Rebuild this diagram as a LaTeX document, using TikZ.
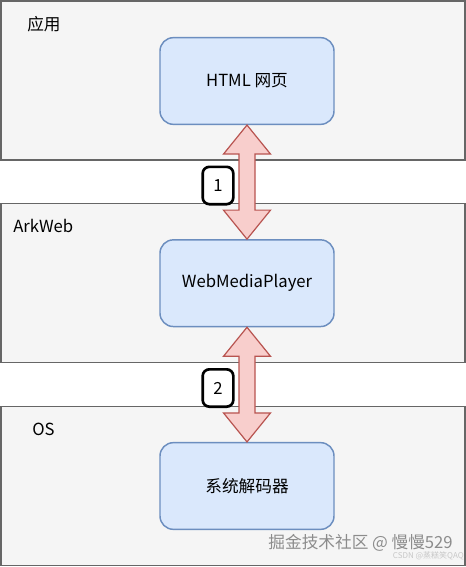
\documentclass[tikz,border=0pt]{standalone}
\usepackage{fontspec}
\setmainfont{Noto Sans CJK SC}
\usetikzlibrary{calc,positioning}
\definecolor{layerfill}{HTML}{F5F5F5}
\definecolor{layerline}{HTML}{666666}
\definecolor{modfill}{HTML}{DAE8FC}
\definecolor{modline}{HTML}{6C8EBF}
\definecolor{arrfill}{HTML}{F8CECC}
\definecolor{arrline}{HTML}{B85450}
\tikzset{
    layer/.style={draw=layerline,fill=layerfill,line width=1.4pt},
    layertext/.style={anchor=west,inner sep=0pt,font=\fontsize{12.5}{15}\selectfont},
    module/.style={draw=modline,fill=modfill,line width=1.1pt,rounded corners=10pt,
        minimum width=130.5pt,minimum height=65pt,font=\fontsize{12.5}{15}\selectfont},
    badge/.style={draw=black,fill=white,line width=2pt,rounded corners=5pt,
        minimum width=23pt,minimum height=28pt,inner sep=0pt,font=\fontsize{12.5}{15}\selectfont},
    bigarrow/.style={draw=arrline,fill=arrfill,line width=0.9pt}
}
% double arrow between the bottom of #1 and the top of #2
\newcommand{\dblarrow}[2]{%
    \draw[bigarrow] (#1.south) -- ++(23.5,29) -- ++(-15.5,0)
        -- ($(#2.north)+(8,-29)$) -- ++(15.5,0) -- (#2.north)
        -- ++(-23.5,-29) -- ++(15.5,0)
        -- ($(#1.south)+(-8,29)$) -- ++(-15.5,0) -- cycle;}

\begin{document}
\begin{tikzpicture}[x=0.75pt,y=-0.75pt]
    \useasboundingbox (0,0) rectangle (466,567);
    % layers
    \draw[layer] (1,1) rectangle (465,160);
    \draw[layer] (1,203.5) rectangle (465,362.5);
    \draw[layer] (1,406.5) rectangle (465,565.5);
    \node[layertext] (app) at (27,24) {应用};
    \node[layertext] (ark) at (13,226) {ArkWeb};
    \node[layertext] (os) at (32,429) {OS};
    % modules
    \node[module] (html) at (247,81) {HTML 网页};
    \node[module] (wmp) at (247,283.2) {WebMediaPlayer};
    \node[module] (dec) at (247,486) {系统解码器};
    \dblarrow{html}{wmp}
    \dblarrow{wmp}{dec}
    \node[badge] (n1) at (218,185.5) {1};
    \node[badge] (n2) at (218,388) {2};
    % watermark
    \node[anchor=east,inner sep=0pt,text=black!45,font=\fontsize{12.5}{15}\selectfont]
        (wm) at (453,543) {掘金技术社区 @ 慢慢529};
    \node[anchor=east,inner sep=0pt,text=black!22,font=\fontsize{6}{7}\selectfont]
        (wm2) at (464,555.5) {CSDN @蒸糕笑QAQ};
\end{tikzpicture}
\end{document}
